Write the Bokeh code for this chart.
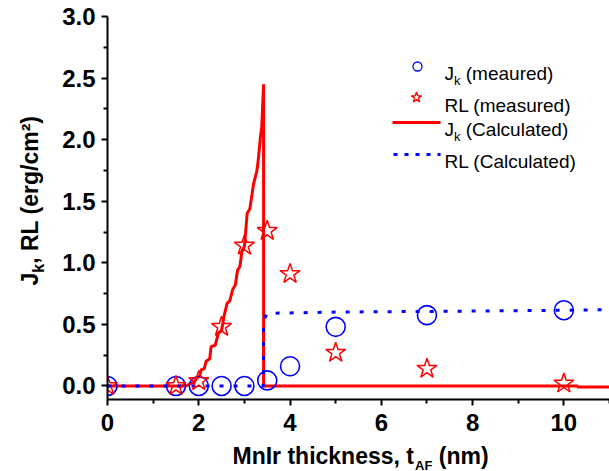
import math
from bokeh.plotting import figure
from bokeh.models import Label, Range1d, FixedTicker, NumeralTickFormatter
from bokeh.layouts import row, column
from bokeh.core.properties import value
from bokeh.embed import file_html
from bokeh.resources import INLINE

# ---------------- data ----------------
jk_meas_x = [0, 1.5, 2, 2.5, 3, 3.5, 4, 5, 7, 10]
jk_meas_y = [0.0, 0.0, 0.0, 0.0, 0.0, 0.045, 0.16, 0.48, 0.575, 0.615]

rl_meas_x = [0, 1.5, 2, 2.5, 3, 3.5, 4, 5, 7, 10]
rl_meas_y = [0.0, 0.0, 0.04, 0.48, 1.14, 1.26, 0.91, 0.27, 0.14, 0.02]

jk_calc_x = [0, 1.72, 1.82, 1.9, 1.95, 2.02, 2.05, 2.12, 2.16, 2.24, 2.27, 2.36,
             2.43, 2.5, 2.55, 2.62, 2.68, 2.74, 2.8, 2.85, 2.9, 2.95, 3.0, 3.06,
             3.12, 3.2, 3.27, 3.3, 3.35, 3.38, 3.42, 3.42, 10.3, 10.3, 11]
jk_calc_y = [0, 0, 0.02, 0.03, 0.06, 0.08, 0.13, 0.14, 0.2, 0.22, 0.32, 0.33,
             0.43, 0.45, 0.56, 0.67, 0.69, 0.78, 0.82, 0.94, 0.97, 1.1, 1.13, 1.4,
             1.44, 1.64, 1.74, 1.82, 2.02, 2.1, 2.45, 0.0, 0.0, -0.008, -0.008]

rl_calc_x = [0, 3.42, 3.42, 3.5, 5, 7, 10, 11]
rl_calc_y = [0, 0, 0.53, 0.59, 0.6, 0.605, 0.615, 0.62]

x_ticks = [0, 2, 4, 6, 8, 10]
x_minor = [1, 3, 5, 7, 9, 11]
y_ticks = [0.0, 0.5, 1.0, 1.5, 2.0, 2.5, 3.0]
y_minor = [0.25, 0.75, 1.25, 1.75, 2.25, 2.75]

legend_labels = ["(meaured)", "RL (measured)", "(Calculated)", "RL (Calculated)"]
x_title = ["MnIr thickness, t", "AF", "(nm)"]
y_title = ["J", "k", ", RL (erg/cm\u00b2)"]

FONT = "Liberation Sans"
X0, X1 = 0, 11
Y0, Y1 = -0.11, 3.0

# page layout (bokeh's page template has no body margin)
PAGE_W, PAGE_H = 609, 471
YT_W = 50            # width of y-title strip
MAIN_H = 440         # height of main figure
XT_H = PAGE_H - MAIN_H
BL, BR, BT = 57, 0, 16
BB = 41

p = figure(width=PAGE_W - YT_W, height=MAIN_H, x_range=Range1d(X0, X1),
           y_range=Range1d(Y0, Y1), output_backend="svg", toolbar_location=None,
           min_border_left=BL, min_border_right=BR, min_border_top=BT,
           min_border_bottom=BB)
p.outline_line_color = None
p.xgrid.visible = False
p.ygrid.visible = False

for ax in (p.xaxis[0], p.yaxis[0]):
    ax.axis_line_width = 2
    ax.major_tick_line_width = 2
    ax.minor_tick_line_width = 2
    ax.major_tick_in = 0
    ax.major_tick_out = 6
    ax.minor_tick_in = 0
    ax.minor_tick_out = 4
    ax.major_label_text_font = FONT
    ax.major_label_text_font_style = "bold"
    ax.major_label_text_font_size = "24px"
    ax.major_label_text_color = "black"
    ax.axis_label = None

p.xaxis[0].ticker = FixedTicker(ticks=x_ticks, minor_ticks=x_minor)
p.yaxis[0].ticker = FixedTicker(ticks=y_ticks, minor_ticks=y_minor)
p.yaxis[0].formatter = NumeralTickFormatter(format="0.0")
p.xaxis[0].major_label_standoff = 8
p.yaxis[0].major_label_standoff = 6

# frame geometry in page pixels
FL = YT_W + BL
FR = PAGE_W - BR
FT = BT
FB = MAIN_H - BB

def dx(px):
    return X0 + (px - FL) / (FR - FL) * (X1 - X0)

def dy(py):
    return Y1 - (py - FT) / (FB - FT) * (Y1 - Y0)

# ---------------- data glyphs ----------------
p.line(jk_calc_x, jk_calc_y, line_color="#ff0000", line_width=3)
p.line(rl_calc_x, rl_calc_y, line_color="#0000ff", line_width=3, line_dash="4 10")
p.scatter(jk_meas_x, jk_meas_y, marker="circle", size=19, fill_color=None,
          line_color="#0000ff", line_width=1.6)
p.scatter(rl_meas_x, rl_meas_y, marker="star", size=21, fill_color=None,
          line_color="#ff0000", line_width=1.5)

def lab(px, py, text, size, bold=False):
    p.add_layout(Label(x=dx(px), y=dy(py), text=text, text_font=FONT,
                       text_font_size=f"{size}px",
                       text_font_style="bold" if bold else "normal",
                       text_color="black", text_baseline="alphabetic",
                       text_align="left"))

# ---------------- legend (manual, for subscripts) ----------------
LS = 19
LX = 444
SP = 0.278 * LS
p.scatter([dx(417)], [dy(66)], marker="circle", size=9, fill_color=None,
          line_color="#0000ff", line_width=1.3)
lab(LX, 73, "J", LS)
lab(LX + 0.5 * LS, 79.5, "k", 13)
lab(LX + 0.5 * LS + 0.5 * 13 + SP, 73, legend_labels[0], LS)

p.scatter([dx(416)], [dy(97)], marker="star", size=11, fill_color=None,
          line_color="#ff0000", line_width=1.3)
lab(LX, 104.5, legend_labels[1], LS)

p.line([dx(392), dx(440)], [dy(122), dy(122)], line_color="#ff0000", line_width=3)
lab(LX, 129, "J", LS)
lab(LX + 0.5 * LS, 135.5, "k", 13)
lab(LX + 0.5 * LS + 0.5 * 13 + SP, 129, legend_labels[2], LS)

p.line([dx(393), dx(440)], [dy(154), dy(154)], line_color="#0000ff", line_width=3,
       line_dash="4 7")
lab(LX, 160.5, legend_labels[3], LS)

# ---------------- axis titles in their own strips ----------------
AS = 23

def strip(w, h, yr):
    f = figure(width=w, height=h, x_range=Range1d(0, w), y_range=Range1d(*yr),
               output_backend="svg", toolbar_location=None, x_axis_type=None,
               y_axis_type=None, min_border=0)
    f.outline_line_color = None
    f.xgrid.visible = False
    f.ygrid.visible = False
    return f

# y-title strip; its frame gets aligned with the main frame (FT..FB) by the row
yt = strip(YT_W, MAIN_H, (MAIN_H - FB, MAIN_H - FT))
ang = math.pi / 2
bx = 29.5
ysz = [AS, 16, AS]
yadv = [0.556, 0.556, 0.0]
yshift = [0, 8, 0]
cur = 285
for t, s, a, sh in zip(y_title, ysz, yadv, yshift):
    yt.text(x=[bx + sh], y=[MAIN_H - cur], text=[t], text_font=value(FONT),
            text_font_size=value(f"{s}px"), text_font_style="bold",
            text_baseline="alphabetic", text_align="left", angle=ang,
            text_color="black")
    cur -= a * s

# x-title strip
xt = strip(PAGE_W, XT_H, (0, XT_H))
SS = 13
x_start = 232
xsz = [AS, SS, AS]
xpos = [x_start, x_start + 7.891 * AS + 1, x_start + 7.891 * AS + 1 + 1.333 * SS + 0.278 * AS]
xbase = [455.5, 464.5, 455.5]
for t, s, xx, yy in zip(x_title, xsz, xpos, xbase):
    xt.text(x=[xx], y=[PAGE_H - yy], text=[t], text_font=value(FONT),
            text_font_size=value(f"{s}px"), text_font_style="bold",
            text_baseline="alphabetic", text_align="left", text_color="black")

layout = column(row(yt, p), xt)
open("out.html", "w").write(file_html(layout, INLINE))
